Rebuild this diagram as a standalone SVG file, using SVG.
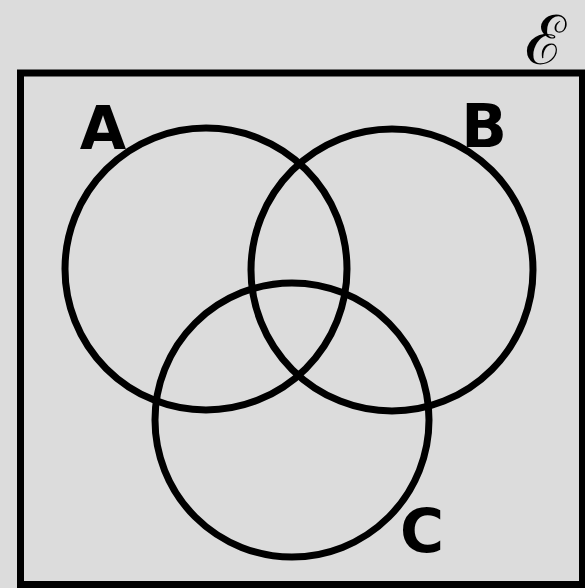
<svg xmlns="http://www.w3.org/2000/svg" width="585" height="588" viewBox="0 0 585 588">
<style>
.set{fill:none;stroke:#000;stroke-width:7}
.lbl{font-family:"DejaVu Sans","Liberation Sans",sans-serif;font-weight:bold;font-size:60px;fill:#000}
</style>
<rect x="0" y="0" width="585" height="588" fill="#dcdcdc"/>
<g id="universe">
<rect x="20.5" y="73" width="562" height="511.5" class="set"/>
<text x="545" y="64" font-family="DejaVu Serif,serif" font-size="68" text-anchor="middle" fill="#000">ℰ</text>
</g>
<g id="setA">
<circle cx="206" cy="269" r="141" class="set"/>
<text x="103" y="149" text-anchor="middle" class="lbl">A</text>
</g>
<g id="setB">
<circle cx="392" cy="270" r="141" class="set"/>
<text x="484" y="147" text-anchor="middle" class="lbl">B</text>
</g>
<g id="setC">
<circle cx="292" cy="420" r="137" class="set"/>
<text x="422" y="552" text-anchor="middle" class="lbl">C</text>
</g>
</svg>
